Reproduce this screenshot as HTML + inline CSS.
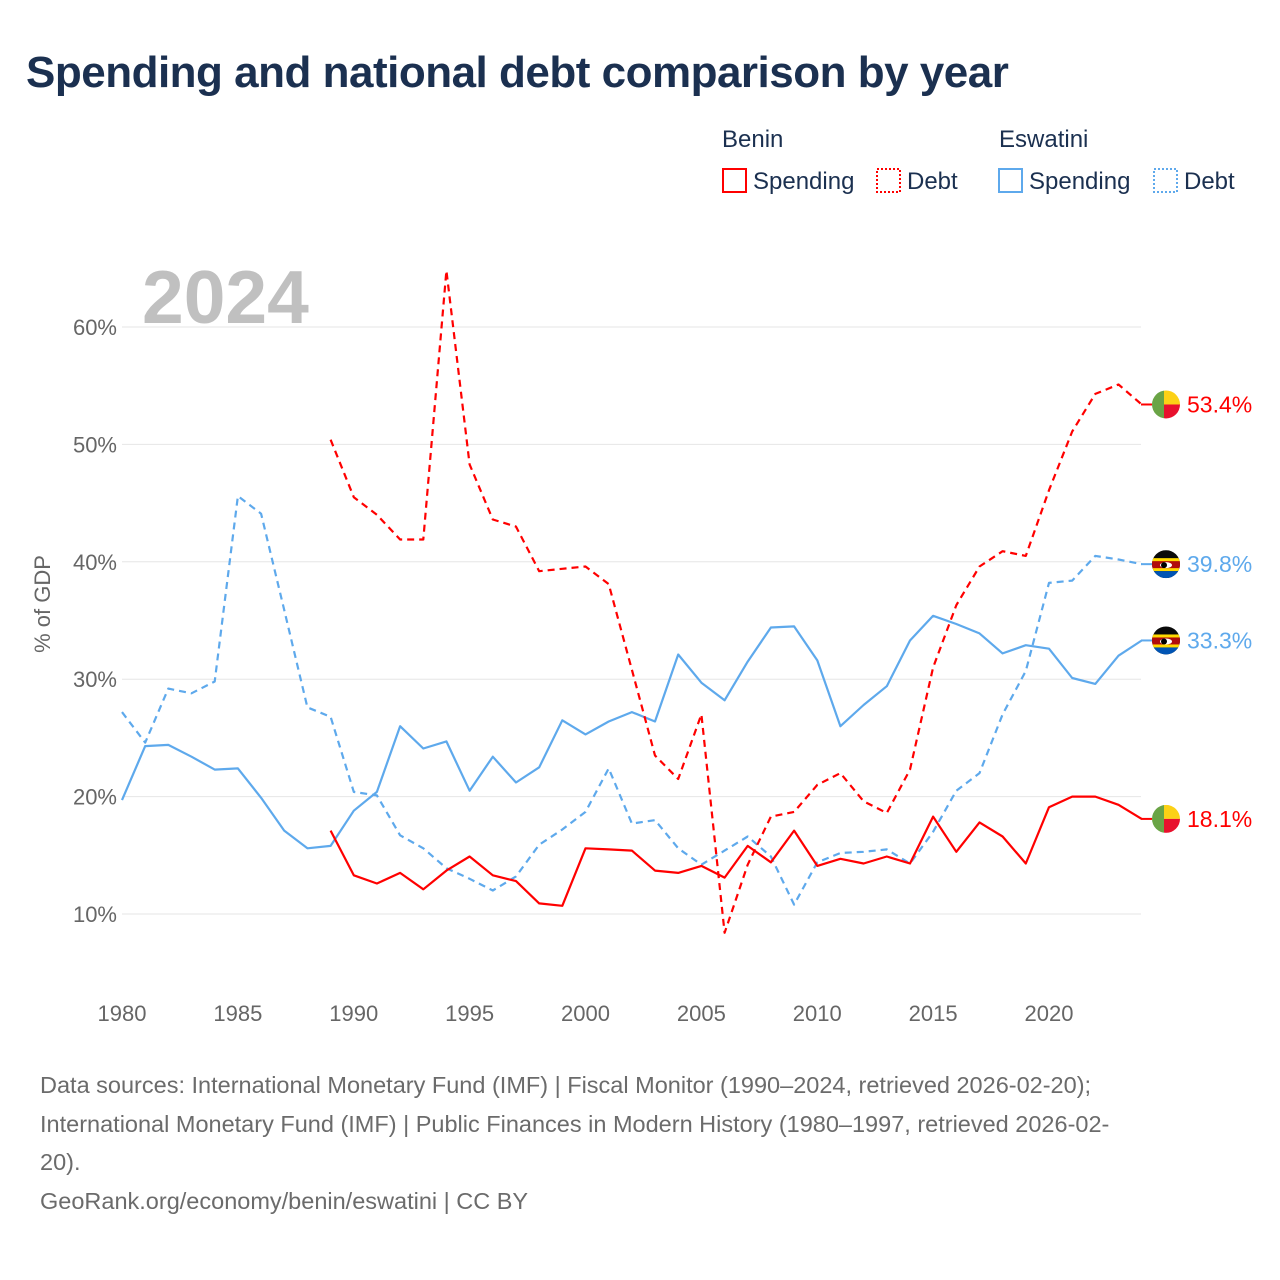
<!DOCTYPE html>
<html><head><meta charset="utf-8">
<style>
body{margin:0;width:1280px;height:1280px;background:#fff;font-family:"Liberation Sans",sans-serif;overflow:hidden}
#title{position:absolute;left:26px;top:48px;font-size:44px;font-weight:bold;color:#1b3050;margin:0;letter-spacing:-0.5px}
.foot{position:absolute;left:40px;font-size:23.5px;color:#6b6b6b;line-height:38.5px;top:1066px;width:1240px;white-space:nowrap}
</style></head><body>
<h1 id="title">Spending and national debt comparison by year</h1>
<svg id="chart" width="1280" height="1060" style="position:absolute;left:0;top:0">
<g font-size="24" fill="#1b3050">
<text x="722" y="147">Benin</text>
<text x="999" y="147">Eswatini</text>
<g><rect x="723" y="169" width="23" height="23" fill="none" stroke="#f00" stroke-width="2"/><text x="753" y="189">Spending</text></g>
<g><rect x="877" y="169" width="23" height="23" fill="none" stroke="#f00" stroke-width="2" stroke-dasharray="2,2"/><text x="907" y="189">Debt</text></g>
<g><rect x="999" y="169" width="23" height="23" fill="none" stroke="#5ea9ec" stroke-width="2"/><text x="1029" y="189">Spending</text></g>
<g><rect x="1154" y="169" width="23" height="23" fill="none" stroke="#5ea9ec" stroke-width="2" stroke-dasharray="2,2"/><text x="1184" y="189">Debt</text></g>
</g>
<text x="142" y="323" font-size="75" font-weight="bold" fill="#c0c0c0">2024</text>
<g id="grid"></g><g id="lines"></g><g id="ends"></g>
<text transform="translate(50,604) rotate(-90)" text-anchor="middle" font-size="22" fill="#666">% of GDP</text>
</svg>
<div class="foot">Data sources: International Monetary Fund (IMF) | Fiscal Monitor (1990–2024, retrieved 2026-02-20);<br>International Monetary Fund (IMF) | Public Finances in Modern History (1980–1997, retrieved 2026-02-<br>20).<br>GeoRank.org/economy/benin/eswatini | CC BY</div>
<script>
const years=[];for(let y=1980;y<=2024;y++)years.push(y);
const yTicks=[10,20,30,40,50,60];
const xTicks=[1980,1985,1990,1995,2000,2005,2010,2015,2020];
const eswSpending=[19.7,24.3,24.4,23.4,22.3,22.4,19.9,17.1,15.6,15.8,18.8,20.4,26.0,24.1,24.7,20.5,23.4,21.2,22.5,26.5,25.3,26.4,27.2,26.4,32.1,29.7,28.2,31.5,34.4,34.5,31.6,26.0,27.8,29.4,33.3,35.4,34.7,33.9,32.2,32.9,32.6,30.1,29.6,32.0,33.3];
const eswDebt=[27.2,24.6,29.2,28.8,29.8,45.6,44.1,35.9,27.6,26.8,20.4,20.1,16.7,15.6,13.9,13.0,12.0,13.2,15.9,17.2,18.7,22.4,17.7,18.0,15.6,14.2,15.4,16.6,14.9,10.8,14.4,15.2,15.3,15.5,14.3,17.0,20.5,22.0,27.0,30.7,38.2,38.4,40.5,40.2,39.8];
const beninDebt=[null,null,null,null,null,null,null,null,null,50.4,45.5,44.0,41.9,41.9,64.8,48.3,43.6,43.0,39.2,39.4,39.6,38.1,30.8,23.5,21.5,27.0,8.4,14.2,18.3,18.7,21.0,22.0,19.6,18.6,22.3,31.0,36.3,39.6,40.9,40.5,46.1,51.1,54.3,55.1,53.4];
const beninSpending=[null,null,null,null,null,null,null,null,null,17.1,13.3,12.6,13.5,12.1,13.7,14.9,13.3,12.8,10.9,10.7,15.6,15.5,15.4,13.7,13.5,14.1,13.1,15.8,14.4,17.1,14.1,14.7,14.3,14.9,14.3,18.3,15.3,17.8,16.6,14.3,19.1,20.0,20.0,19.3,18.1];
const NS='http://www.w3.org/2000/svg';
const xS=y=>122+(y-1980)*23.175;
const yS=v=>327+(60-v)*11.74;
function mk(t,a,p){const e=document.createElementNS(NS,t);for(const k in a)e.setAttribute(k,a[k]);p.appendChild(e);return e;}
const grid=document.getElementById('grid');
yTicks.forEach(t=>{
 const l=mk('line',{x1:122,x2:1141,y1:yS(t),y2:yS(t),stroke:'#e6e6e6','stroke-width':1},grid);
 
 
 const tx=mk('text',{x:117,y:yS(t)+8,'text-anchor':'end','font-size':22,fill:'#666'},grid);tx.textContent=t+'%';
 
 
});
xTicks.forEach(t=>{
 const tx=mk('text',{x:xS(t),y:1021,'text-anchor':'middle','font-size':22,fill:'#666'},grid);tx.textContent=t;
 
 
});
const lines=document.getElementById('lines');
function series(vals,color,dash,name){
 let d='';let started=false;
 vals.forEach((v,i)=>{if(v==null)return;d+=(started?'L':'M')+xS(years[i]).toFixed(1)+','+yS(v).toFixed(1);started=true;});
 const p=mk('path',{d:d,fill:'none',stroke:color,'stroke-width':2.2,'stroke-dasharray':dash?'7,5':'none','stroke-linejoin':'round'},lines);
 
 
}
series(eswDebt,'#5ea9ec',true,'eswatini-debt-line');
series(eswSpending,'#5ea9ec',false,'eswatini-spending-line');
series(beninDebt,'#f00',true,'benin-debt-line');
series(beninSpending,'#f00',false,'benin-spending-line');
const ends=document.getElementById('ends');
function endLabel(vals,color,flag,name){
 const v=vals[vals.length-1];const cy=yS(v);const cx=1166;
 const g=mk('g',{},ends);
 
 
 mk('line',{x1:1141,x2:1152,y1:cy,y2:cy,stroke:color,'stroke-width':2},g);
 const id='c'+name;
 const cp=mk('clipPath',{id:id},g);mk('circle',{cx:cx,cy:cy,r:14},cp);
 const f=mk('g',{'clip-path':'url(#'+id+')'},g);
 if(flag==='benin'){
  mk('rect',{x:cx-14,y:cy-14,width:12,height:28,fill:'#6aa446'},f);
  mk('rect',{x:cx-2,y:cy-14,width:16,height:14,fill:'#fcd116'},f);
  mk('rect',{x:cx-2,y:cy,width:16,height:14,fill:'#e8112d'},f);
 }else{
  mk('rect',{x:cx-14,y:cy-14,width:28,height:28,fill:'#0a0a0a'},f);
  mk('rect',{x:cx-14,y:cy-6,width:28,height:4,fill:'#ffd900'},f);
  mk('rect',{x:cx-14,y:cy-3,width:28,height:8,fill:'#b10c0c'},f);
  mk('rect',{x:cx-14,y:cy+4,width:28,height:3,fill:'#ffd900'},f);
  mk('rect',{x:cx-14,y:cy+7,width:28,height:7,fill:'#0054b4'},f);
  mk('ellipse',{cx:cx,cy:cy+1,rx:6,ry:3,fill:'#fff'},f);
  mk('ellipse',{cx:cx-2,cy:cy+1,rx:3,ry:3,fill:'#000'},f);
 }
 const t=mk('text',{x:1187,y:cy+8,'font-size':23,fill:color},g);t.textContent=v.toFixed(1)+'%';
}
endLabel(beninDebt,'#f00','benin','end-label-benin-debt');
endLabel(eswDebt,'#5ea9ec','esw','end-label-eswatini-debt');
endLabel(eswSpending,'#5ea9ec','esw','end-label-eswatini-spending');
endLabel(beninSpending,'#f00','benin','end-label-benin-spending');
</script>
</body></html>
